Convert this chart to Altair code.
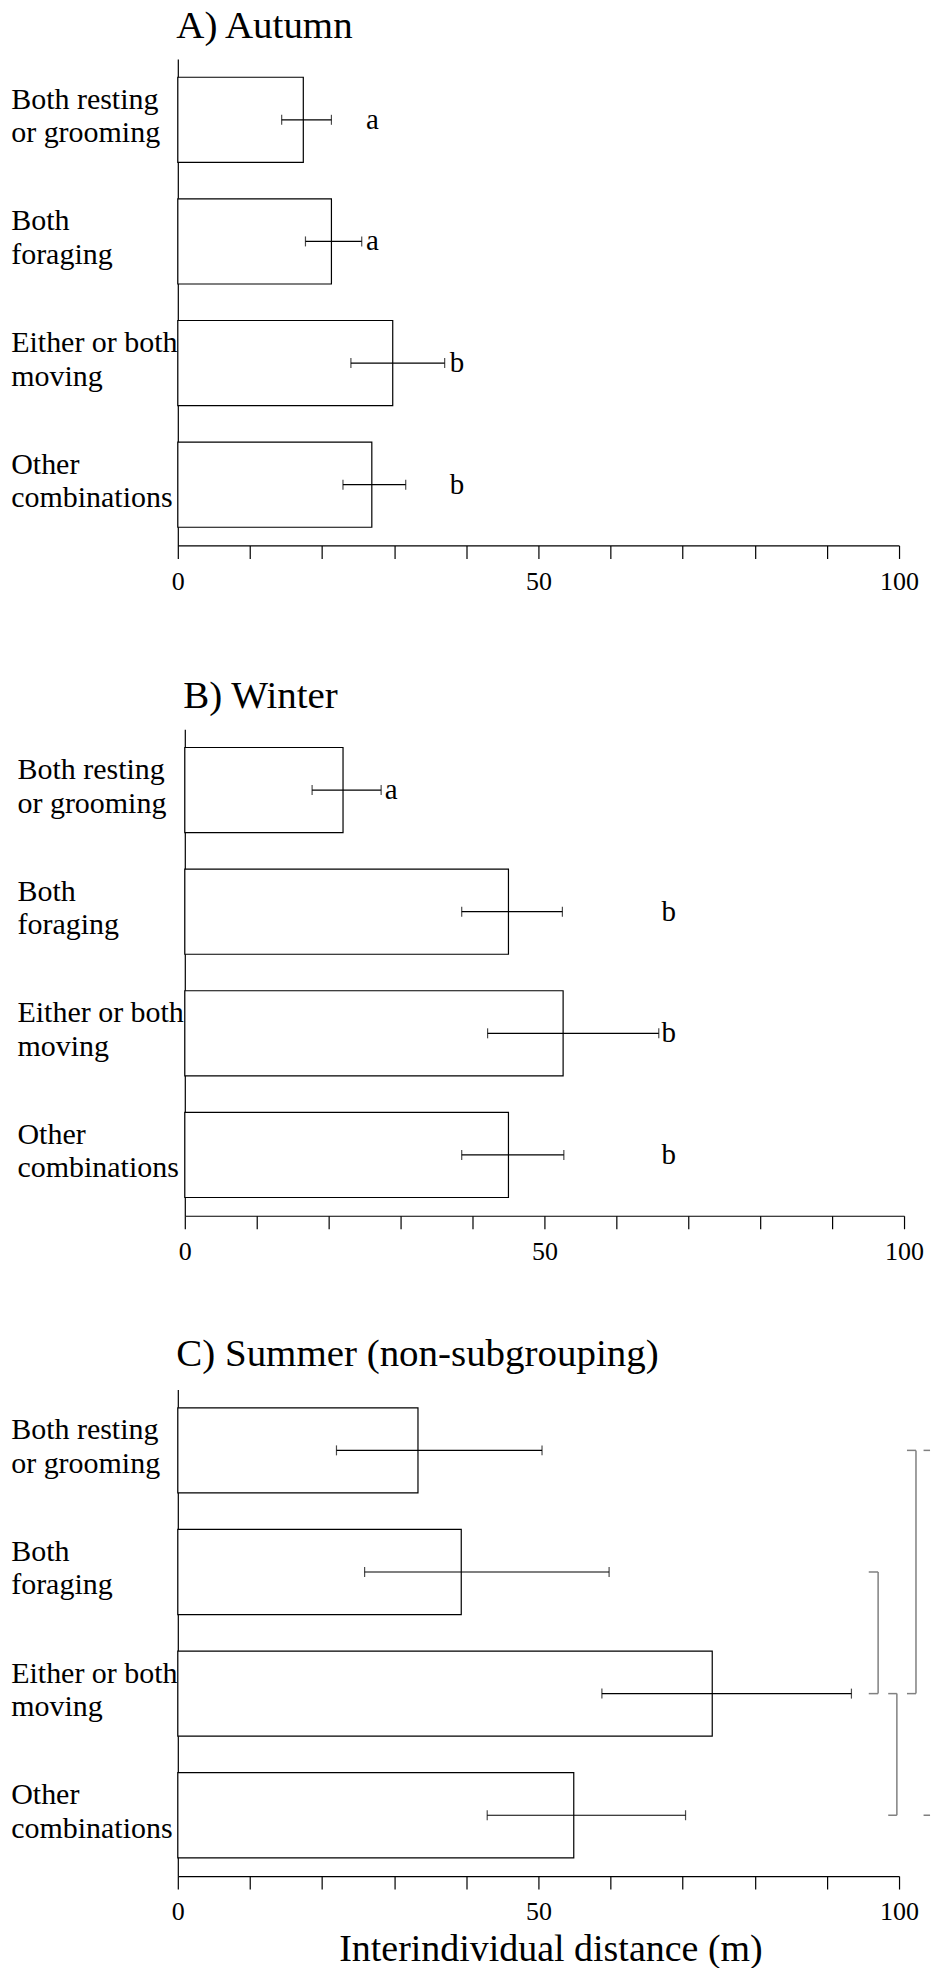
import altair as alt
import pandas as pd

FONT = "Liberation Serif"

categories = ["Both resting\nor grooming", "Both\nforaging", "Either or both\nmoving", "Other\ncombinations"]

tick_values = [0, 10, 20, 30, 40, 50, 60, 70, 80, 90, 100]
tick_labels = ["0", "50", "100"]

autumn_mean = [17.4, 21.3, 29.8, 26.9]
autumn_low = [14.4, 17.7, 24.0, 22.9]
autumn_high = [21.3, 25.5, 37.0, 31.6]
autumn_letters = ["a", "a", "b", "b"]
autumn_letter_x = [27.0, 27.0, 38.7, 38.7]

winter_mean = [22.0, 45.0, 52.6, 45.0]
winter_low = [17.7, 38.5, 42.1, 38.5]
winter_high = [27.3, 52.5, 65.9, 52.7]
winter_letters = ["a", "b", "b", "b"]
winter_letter_x = [28.7, 67.3, 67.3, 67.3]

summer_mean = [33.3, 39.3, 74.1, 54.9]
summer_low = [22.0, 25.9, 58.8, 42.9]
summer_high = [50.5, 59.8, 93.4, 70.4]

# significance brackets in summer panel (category index pairs)
bracket_from = [0, 1, 2]
bracket_to = [2, 2, 3]
bracket_x = [102.35, 97.1, 99.7]
bracket_tick_start = [101.1, 95.8, 98.5]
# partly visible bracket (cut at right edge)
stub_from = [0, 3]
stub_x1 = [103.4, 103.4]
stub_x2 = [104.3, 104.3]

label_expr_x = "indexof(" + str(tick_labels).replace("'", '"') + ", datum.label) >= 0 ? datum.label : ''"


def y_enc(field, pad, axis_offset=0):
    return alt.Y(
        field,
        type="nominal",
        sort=categories,
        scale=alt.Scale(domain=categories, paddingInner=0.3, paddingOuter=0.15),
        axis=alt.Axis(
            title=None,
            labelExpr="split(datum.label, '\\n')",
            labelAlign="left",
            labelBaseline="middle",
            labelPadding=pad,
            labelOffset=-20,
            labelFont=FONT,
            labelFontSize=30,
            labelLineHeight=33.5,
            labelColor="black",
            labelLimit=400,
            ticks=False,
            tickSize=0,
            domainColor="black",
            domainWidth=1.2,
            grid=False,
            offset=axis_offset,
        ),
    )


def x_enc(field, x_range, xtitle=None):
    axis_kw = dict(
        values=tick_values,
        labelExpr=label_expr_x,
        tickSize=13,
        tickWidth=1.2,
        tickColor="black",
        domainColor="black",
        domainWidth=1.2,
        labelFont=FONT,
        labelFontSize=26,
        labelColor="black",
        labelPadding=10,
        labelFlush=False,
        labelOverlap=False,
        grid=False,
    )
    if xtitle:
        axis_kw.update(
            title=xtitle,
            titleFont=FONT,
            titleFontSize=38,
            titleFontWeight="normal",
            titleColor="black",
            titleX=373,
            titleY=84.5,
            titleBaseline="alphabetic",
            titleAlign="center",
        )
    else:
        axis_kw.update(title=None)
    return alt.X(
        field,
        type="quantitative",
        scale=alt.Scale(domain=[0, 100], range=x_range, nice=False, zero=True),
        axis=alt.Axis(**axis_kw),
    )


def panel(title, title_dy, mean, low, high, shift, plot_w, pad, letters=None, letter_x=None, xtitle=None, extra=None):
    df = pd.DataFrame({"cat": categories, "mean": mean, "low": low, "high": high})
    base = alt.Chart(df)
    Y = y_enc("cat", pad, -shift)
    X = x_enc("mean", [shift, shift + plot_w], xtitle)
    bars = base.mark_bar(fill="white", stroke="black", strokeWidth=1.2).encode(x=X, y=Y)
    err = base.mark_rule(color="black", strokeWidth=1.2).encode(x="low:Q", x2="high:Q", y=Y)
    cap_lo = base.mark_tick(color="black", thickness=1.2, size=10).encode(x="low:Q", y=Y)
    cap_hi = base.mark_tick(color="black", thickness=1.2, size=10).encode(x="high:Q", y=Y)
    tdf = pd.DataFrame({"t": [title]})
    ttl = alt.Chart(tdf).mark_text(
        font=FONT, fontSize=39, align="left", baseline="alphabetic", color="black"
    ).encode(x=alt.value(shift - 1.5), y=alt.value(title_dy), text="t:N")
    layers = [bars, err, cap_lo, cap_hi, ttl]
    if letters is not None:
        ldf = pd.DataFrame({"cat": categories, "letter": letters, "lx": letter_x})
        layers.append(
            alt.Chart(ldf).mark_text(font=FONT, fontSize=29, baseline="middle", align="center", color="black").encode(
                x="lx:Q", y=Y, text="letter:N"
            )
        )
    if extra:
        layers.extend(extra)
    return alt.layer(*layers).properties(width=shift + plot_w, height=487)


PAD_AC = 167.3
PAD_B = 168.0

# brackets for summer panel
bdf = pd.DataFrame(
    {
        "from": [categories[i] for i in bracket_from],
        "to": [categories[i] for i in bracket_to],
        "bx": bracket_x,
        "tx": bracket_tick_start,
    }
)
GRAY = "#808080"
Yb_from = y_enc("from", PAD_AC)
Yb_to = y_enc("to", PAD_AC)
br_v = alt.Chart(bdf).mark_rule(color=GRAY, strokeWidth=1.5).encode(x="bx:Q", y=Yb_from, y2="to:N")
br_t1 = alt.Chart(bdf).mark_rule(color=GRAY, strokeWidth=1.5).encode(x="tx:Q", x2="bx:Q", y=Yb_from)
br_t2 = alt.Chart(bdf).mark_rule(color=GRAY, strokeWidth=1.5).encode(x="tx:Q", x2="bx:Q", y=Yb_to)
sdf = pd.DataFrame({"cat": [categories[i] for i in stub_from], "x1": stub_x1, "x2": stub_x2})
br_s = alt.Chart(sdf).mark_rule(color=GRAY, strokeWidth=1.5).encode(x="x1:Q", x2="x2:Q", y=y_enc("cat", PAD_AC))

A = panel("A) Autumn", -21.3, autumn_mean, autumn_low, autumn_high, 0, 722, PAD_AC, autumn_letters, autumn_letter_x)
B = panel("B) Winter", -21.6, winter_mean, winter_low, winter_high, 7, 720, PAD_B, winter_letters, winter_letter_x)
C = panel(
    "C) Summer (non-subgrouping)",
    -23.4,
    summer_mean,
    summer_low,
    summer_high,
    0,
    722,
    PAD_AC,
    xtitle="Interindividual distance (m)",
    extra=[br_v, br_t1, br_t2, br_s],
)

AB = alt.concat(A, B, columns=1, spacing=82)
chart = (
    alt.concat(AB, C, columns=1, spacing=70)
    .properties(padding={"left": 10, "top": 5, "right": 0, "bottom": 0}, background="white")
    .configure_view(stroke=None)
)

chart.save("out.html", embed_options={"renderer": "svg", "actions": False})
